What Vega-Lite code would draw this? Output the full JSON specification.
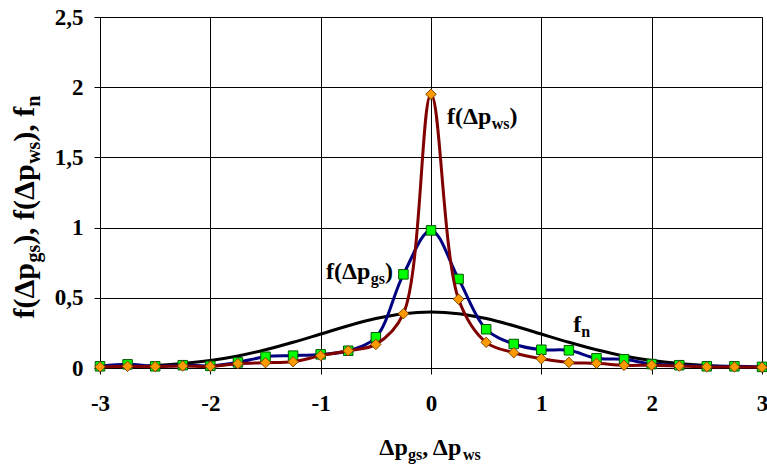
{
  "$schema": "https://vega.github.io/schema/vega-lite/v6.json",
  "width": 662,
  "height": 351,
  "autosize": {"type": "none"},
  "padding": {"left": 100, "top": 17, "right": 5, "bottom": 96},
  "background": "white",
  "config": {
    "view": {"stroke": null},
    "font": "Liberation Serif"
  },
  "datasets": {
    "series": [
      {"x": -3, "gs": 0.012, "ws": 0.008, "fn": 0.004},
      {"x": -2.75, "gs": 0.026, "ws": 0.012, "fn": 0.009},
      {"x": -2.5, "gs": 0.012, "ws": 0.010, "fn": 0.018},
      {"x": -2.25, "gs": 0.020, "ws": 0.015, "fn": 0.032},
      {"x": -2, "gs": 0.015, "ws": 0.012, "fn": 0.054},
      {"x": -1.75, "gs": 0.040, "ws": 0.031, "fn": 0.086},
      {"x": -1.5, "gs": 0.080, "ws": 0.038, "fn": 0.130},
      {"x": -1.25, "gs": 0.088, "ws": 0.045, "fn": 0.183},
      {"x": -1, "gs": 0.097, "ws": 0.088, "fn": 0.242},
      {"x": -0.75, "gs": 0.123, "ws": 0.123, "fn": 0.301},
      {"x": -0.5, "gs": 0.219, "ws": 0.168, "fn": 0.352},
      {"x": -0.25, "gs": 0.667, "ws": 0.387, "fn": 0.387},
      {"x": 0, "gs": 0.98, "ws": 1.95, "fn": 0.399},
      {"x": 0.25, "gs": 0.634, "ws": 0.49, "fn": 0.387},
      {"x": 0.5, "gs": 0.276, "ws": 0.183, "fn": 0.352},
      {"x": 0.75, "gs": 0.171, "ws": 0.109, "fn": 0.301},
      {"x": 1, "gs": 0.130, "ws": 0.066, "fn": 0.242},
      {"x": 1.25, "gs": 0.126, "ws": 0.040, "fn": 0.183},
      {"x": 1.5, "gs": 0.069, "ws": 0.033, "fn": 0.130},
      {"x": 1.75, "gs": 0.062, "ws": 0.019, "fn": 0.086},
      {"x": 2, "gs": 0.028, "ws": 0.020, "fn": 0.054},
      {"x": 2.25, "gs": 0.020, "ws": 0.014, "fn": 0.032},
      {"x": 2.5, "gs": 0.012, "ws": 0.008, "fn": 0.018},
      {"x": 2.75, "gs": 0.012, "ws": 0.008, "fn": 0.009},
      {"x": 3, "gs": 0.008, "ws": 0.005, "fn": 0.004}
    ],
    "mainText": [
      {"x": 0.145, "y": 1.736, "t": "f(Δp"},
      {"x": 0.712, "y": 1.736, "t": ")"},
      {"x": -0.952, "y": 0.632, "t": "f(Δp"},
      {"x": -0.418, "y": 0.632, "t": ")"},
      {"x": 1.29, "y": 0.259, "t": "f"},
      {"x": -0.468, "y": -0.622, "t": "Δp"},
      {"x": -0.080, "y": -0.622, "t": ", Δp"}
    ],
    "subText": [
      {"x": 0.551, "y": 1.736, "t": "ws"},
      {"x": -0.547, "y": 0.632, "t": "gs"},
      {"x": 1.362, "y": 0.259, "t": "n"},
      {"x": -0.208, "y": -0.622, "t": "gs"},
      {"x": 0.289, "y": -0.622, "t": "ws"}
    ],
    "yMain": [
      {"x": -3.598, "y": 0.353, "t": "f(Δp"},
      {"x": -3.598, "y": 0.877, "t": "), f(Δp"},
      {"x": -3.598, "y": 1.612, "t": "), f"}
    ],
    "ySub": [
      {"x": -3.598, "y": 0.751, "t": "gs"},
      {"x": -3.598, "y": 1.454, "t": "ws"},
      {"x": -3.598, "y": 1.861, "t": "n"}
    ]
  },
  "layer": [
    {
      "data": {"name": "series"},
      "mark": {"type": "line", "color": "black", "strokeWidth": 3, "interpolate": "monotone"},
      "encoding": {
        "x": {"field": "x", "type": "quantitative",
          "scale": {"domain": [-3, 3], "nice": false, "zero": false},
          "axis": {"title": null, "values": [-3, -2, -1, 0, 1, 2, 3], "grid": true, "gridColor": "black", "gridOpacity": 1, "gridWidth": 1,
            "domainColor": "black", "domainWidth": 1, "tickColor": "black", "tickSize": 6, "tickWidth": 1,
            "labelFont": "Liberation Serif", "labelFontWeight": "bold", "labelFontSize": 23, "labelColor": "black", "labelPadding": 18, "labelFlush": false,
            "labelExpr": "replace(format(datum.value, '~g'), '−', '-')"}},
        "y": {"field": "fn", "type": "quantitative",
          "scale": {"domain": [0, 2.5], "nice": false},
          "axis": {"title": null, "values": [0, 0.5, 1, 1.5, 2, 2.5], "grid": true, "gridColor": "black", "gridOpacity": 1, "gridWidth": 1,
            "domainColor": "black", "domainWidth": 1, "tickColor": "black", "tickSize": 6, "tickWidth": 1,
            "labelFont": "Liberation Serif", "labelFontWeight": "bold", "labelFontSize": 23, "labelColor": "black", "labelPadding": 11,
            "labelExpr": "replace(format(datum.value, '~g'), '.', ',')"}}
      }
    },
    {
      "data": {"name": "series"},
      "mark": {"type": "line", "color": "#000080", "strokeWidth": 3, "interpolate": "catmull-rom"},
      "encoding": {
        "x": {"field": "x", "type": "quantitative"},
        "y": {"field": "gs", "type": "quantitative"}
      }
    },
    {
      "data": {"name": "series"},
      "mark": {"type": "point", "shape": "square", "filled": true, "fill": "#00ff00", "stroke": "#005500", "strokeWidth": 1, "size": 90, "opacity": 1},
      "encoding": {
        "x": {"field": "x", "type": "quantitative"},
        "y": {"field": "gs", "type": "quantitative"}
      }
    },
    {
      "data": {"name": "series"},
      "mark": {"type": "line", "color": "#800000", "strokeWidth": 3, "interpolate": "catmull-rom"},
      "encoding": {
        "x": {"field": "x", "type": "quantitative"},
        "y": {"field": "ws", "type": "quantitative"}
      }
    },
    {
      "data": {"name": "series"},
      "mark": {"type": "point", "shape": "diamond", "filled": true, "fill": "#ff9900", "stroke": "#7a4a00", "strokeWidth": 1, "size": 110, "opacity": 1},
      "encoding": {
        "x": {"field": "x", "type": "quantitative"},
        "y": {"field": "ws", "type": "quantitative"}
      }
    },
    {
      "data": {"name": "mainText"},
      "mark": {"type": "text", "align": "left", "baseline": "alphabetic", "font": "Liberation Serif", "fontWeight": "bold", "fontSize": 24, "color": "black"},
      "encoding": {
        "x": {"field": "x", "type": "quantitative"},
        "y": {"field": "y", "type": "quantitative"},
        "text": {"field": "t"}
      }
    },
    {
      "data": {"name": "subText"},
      "mark": {"type": "text", "align": "left", "baseline": "alphabetic", "font": "Liberation Serif", "fontWeight": "bold", "fontSize": 16, "dy": 5, "color": "black"},
      "encoding": {
        "x": {"field": "x", "type": "quantitative"},
        "y": {"field": "y", "type": "quantitative"},
        "text": {"field": "t"}
      }
    },
    {
      "data": {"name": "yMain"},
      "mark": {"type": "text", "align": "left", "baseline": "alphabetic", "angle": 270, "font": "Liberation Serif", "fontWeight": "bold", "fontSize": 30, "color": "black"},
      "encoding": {
        "x": {"field": "x", "type": "quantitative"},
        "y": {"field": "y", "type": "quantitative"},
        "text": {"field": "t"}
      }
    },
    {
      "data": {"name": "ySub"},
      "mark": {"type": "text", "align": "left", "baseline": "alphabetic", "angle": 270, "font": "Liberation Serif", "fontWeight": "bold", "fontSize": 20, "dy": 6, "color": "black"},
      "encoding": {
        "x": {"field": "x", "type": "quantitative"},
        "y": {"field": "y", "type": "quantitative"},
        "text": {"field": "t"}
      }
    }
  ]
}
